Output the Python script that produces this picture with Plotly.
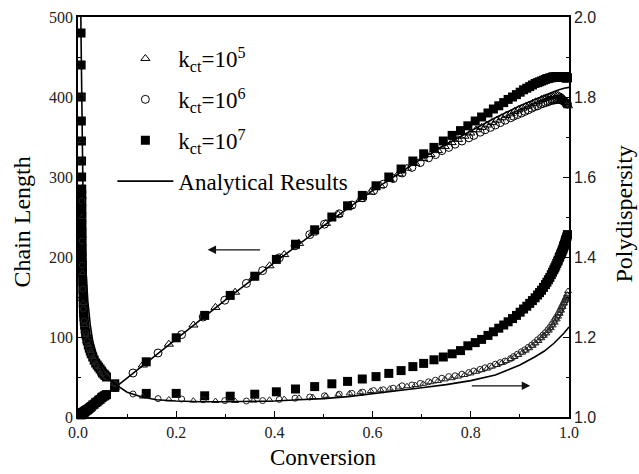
import plotly.graph_objects as go

# ---------------- data ----------------
# k_ct = 1e7 (filled squares)
k7_conv = [0.0062, 0.0064, 0.0066, 0.0068, 0.0070, 0.0072, 0.0074, 0.0076, 0.0077, 0.0078,
           0.0079, 0.0080, 0.0081, 0.0083, 0.0084, 0.0086, 0.0088, 0.0090, 0.0092, 0.0095,
           0.0098, 0.0102, 0.0106, 0.0110, 0.0115, 0.0120, 0.0127, 0.0135, 0.0145, 0.0155,
           0.0165, 0.018, 0.019, 0.021, 0.023, 0.025, 0.027, 0.030, 0.033, 0.036,
           0.039, 0.042, 0.045, 0.048, 0.050, 0.053, 0.055, 0.058, 0.075,
           0.139, 0.200, 0.258, 0.310, 0.360, 0.404, 0.443, 0.482, 0.517, 0.549,
           0.579, 0.607, 0.633, 0.658, 0.682, 0.704, 0.725, 0.744, 0.762, 0.779,
           0.794, 0.809, 0.822, 0.835, 0.846, 0.857, 0.867, 0.876, 0.885, 0.893,
           0.9005, 0.9075, 0.914, 0.920, 0.9255, 0.931, 0.936, 0.940, 0.944, 0.948,
           0.952, 0.955, 0.958, 0.961, 0.964, 0.9665, 0.969, 0.971, 0.973, 0.975,
           0.977, 0.978, 0.980, 0.981, 0.983, 0.984, 0.985, 0.986, 0.987, 0.988,
           0.989, 0.9895, 0.990, 0.991, 0.992, 0.9925, 0.993, 0.9935, 0.994, 0.995,
           0.996, 0.997]
k7_cl = [3, 3, 3, 3, 3, 4, 4, 4, 4, 4,
         4, 4, 4, 4, 4, 4, 4, 5, 5, 5,
         5, 5, 5, 5, 6, 6, 6, 7, 7, 8,
         8, 9, 9, 10, 11, 12, 13, 15, 16, 18,
         19, 21, 22, 24, 25, 26, 27, 28, 37,
         69, 99, 127, 152, 176, 197, 216, 234, 250, 264,
         277, 289, 300, 310, 320, 329, 337, 345, 352, 358,
         364, 370, 375, 380, 385, 389, 393, 397, 400, 403,
         406, 409, 411, 413, 415, 417, 418, 419, 420, 421,
         422, 423, 423, 424, 424, 425, 425, 425, 425, 425,
         425, 425, 425, 425, 425, 425, 425, 425, 425, 425,
         425, 425, 425, 425, 425, 425, 425, 424, 424, 424,
         424, 424]
k7_pdi = [1.96, 1.88, 1.80, 1.74, 1.69, 1.64, 1.60, 1.57, 1.555, 1.54,
          1.52, 1.50, 1.48, 1.46, 1.44, 1.42, 1.40, 1.38, 1.36, 1.34,
          1.32, 1.30, 1.285, 1.27, 1.26, 1.25, 1.24, 1.23, 1.22, 1.21,
          1.205, 1.195, 1.19, 1.18, 1.172, 1.165, 1.158, 1.15, 1.142, 1.135,
          1.13, 1.125, 1.12, 1.115, 1.11, 1.107, 1.104, 1.10, 1.083,
          1.059, 1.059, 1.053, 1.052, 1.057, 1.063, 1.070, 1.076, 1.083, 1.089,
          1.095, 1.101, 1.109, 1.116, 1.126, 1.134, 1.143, 1.150, 1.158, 1.166,
          1.178, 1.186, 1.194, 1.204, 1.213, 1.222, 1.230, 1.238, 1.246, 1.254,
          1.262, 1.270, 1.277, 1.284, 1.291, 1.298, 1.305, 1.311, 1.317, 1.324,
          1.331, 1.337, 1.343, 1.349, 1.356, 1.362, 1.368, 1.373, 1.378, 1.384,
          1.389, 1.392, 1.398, 1.401, 1.406, 1.409, 1.412, 1.415, 1.418, 1.421,
          1.425, 1.427, 1.429, 1.432, 1.436, 1.438, 1.440, 1.442, 1.444, 1.448,
          1.452, 1.456]

# k_ct = 1e6 (open circles)
k6_conv = [0.0066, 0.0072, 0.0078, 0.0084, 0.0090, 0.0098, 0.0110, 0.0127, 0.0155, 0.019,
           0.023, 0.027, 0.033, 0.039, 0.045, 0.050, 0.055, 0.058, 0.075,
           0.112, 0.163, 0.211, 0.255, 0.299, 0.343, 0.376, 0.410, 0.442, 0.472,
           0.502, 0.532, 0.558, 0.580, 0.602, 0.622, 0.642, 0.660, 0.680, 0.697,
           0.714, 0.728, 0.741, 0.755, 0.768, 0.782, 0.796, 0.806, 0.819, 0.829,
           0.840, 0.850, 0.860, 0.870, 0.881, 0.887,
           0.895, 0.903, 0.910, 0.917, 0.924, 0.930, 0.936, 0.942, 0.947, 0.952,
           0.957, 0.961, 0.965, 0.969, 0.972, 0.975, 0.978, 0.981, 0.983, 0.985,
           0.987, 0.989, 0.991, 0.993, 0.995, 0.997]
k6_cl = [3, 4, 4, 4, 4, 5, 5, 6, 8, 9,
         11, 13, 16, 19, 22, 25, 27, 28, 37,
         55, 80, 103, 125, 146, 167, 183, 199, 214, 228,
         241, 254, 265, 274, 283, 291, 298, 305, 312, 318,
         324, 328, 333, 337, 341, 345, 349, 352, 356, 359,
         362, 365, 368, 371, 374, 376,
         378, 380, 382, 384, 386, 388, 389, 391, 392, 393,
         394, 395, 396, 396, 397, 397, 397, 397, 397, 396,
         396, 395, 394, 393, 392, 391]
k6_pdi = [1.80, 1.64, 1.54, 1.44, 1.38, 1.32, 1.27, 1.24, 1.21, 1.19,
          1.172, 1.158, 1.142, 1.13, 1.12, 1.11, 1.104, 1.10, 1.083,
          1.0575, 1.046, 1.045, 1.043, 1.041, 1.040, 1.041, 1.044, 1.047, 1.050,
          1.053, 1.057, 1.059, 1.062, 1.066, 1.068, 1.072, 1.078, 1.080, 1.084,
          1.088, 1.092, 1.097, 1.101, 1.103, 1.107, 1.111, 1.115, 1.119, 1.123,
          1.127, 1.132, 1.136, 1.140, 1.146, 1.151,
          1.157, 1.163, 1.168, 1.174, 1.180, 1.186, 1.193, 1.199, 1.205, 1.211,
          1.218, 1.224, 1.231, 1.238, 1.244, 1.250, 1.256, 1.263, 1.268, 1.273,
          1.278, 1.283, 1.288, 1.293, 1.298, 1.303]

# k_ct = 1e5 (open triangles)
k5_conv = [0.0070, 0.0080, 0.0092, 0.0106, 0.0135, 0.0165, 0.021, 0.025, 0.030, 0.036,
           0.042, 0.048, 0.053,
           0.075, 0.132, 0.185, 0.235, 0.280, 0.320, 0.357, 0.390, 0.420, 0.450,
           0.478, 0.505, 0.530, 0.553, 0.575, 0.596, 0.616, 0.635, 0.653, 0.670,
           0.687, 0.703, 0.718, 0.733, 0.747, 0.761, 0.774, 0.787, 0.799, 0.811,
           0.822, 0.833, 0.843, 0.853, 0.863, 0.872, 0.881, 0.889, 0.897, 0.905,
           0.912, 0.919, 0.926, 0.932, 0.938, 0.944, 0.949, 0.954, 0.959, 0.963,
           0.967, 0.971, 0.975, 0.978, 0.981, 0.984, 0.987, 0.990, 0.992, 0.994,
           0.996, 0.998]
k5_cl = [3, 4, 5, 5, 7, 8, 10, 12, 15, 18,
         21, 24, 26,
         37, 65, 91, 115, 137, 156, 174, 189, 203, 217,
         230, 242, 253, 263, 272, 281, 289, 297, 304, 311,
         317, 323, 328, 333, 338, 343, 347, 351, 355, 359,
         362, 365, 368, 371, 374, 377, 379, 382, 384, 386,
         388, 390, 392, 394, 395, 397, 398, 399, 400, 401,
         401, 402, 402, 402, 401, 400, 399, 397, 395, 393,
         391, 389]
k5_pdi = [1.69, 1.50, 1.36, 1.285, 1.23, 1.205, 1.18, 1.165, 1.15, 1.135,
          1.125, 1.115, 1.107,
          1.083, 1.051, 1.044, 1.041, 1.040, 1.040, 1.041, 1.043, 1.045, 1.048,
          1.050, 1.053, 1.056, 1.059, 1.062, 1.065, 1.068, 1.071, 1.074, 1.077,
          1.080, 1.083, 1.087, 1.090, 1.094, 1.097, 1.101, 1.105, 1.109, 1.113,
          1.117, 1.121, 1.126, 1.130, 1.135, 1.140, 1.145, 1.150, 1.155, 1.161,
          1.166, 1.172, 1.178, 1.184, 1.190, 1.197, 1.203, 1.209, 1.216, 1.222,
          1.229, 1.236, 1.244, 1.251, 1.258, 1.266, 1.275, 1.284, 1.291, 1.298,
          1.306, 1.315]

# Analytical results (solid lines)
an_cl_conv = [0, 0.1, 0.2, 0.3, 0.4, 0.5, 0.6, 0.7, 0.75, 0.8, 0.85, 0.9, 0.93, 0.95,
              0.97, 0.98, 0.99, 1.0]
an_cl = [0, 49, 98, 146, 193, 239, 283, 323, 341, 358, 374, 389, 397, 402,
         407, 409, 411, 412]
an_pdi_conv = [0.001, 0.002, 0.003, 0.004, 0.005, 0.006, 0.008, 0.010, 0.012, 0.015,
               0.02, 0.025, 0.03, 0.04, 0.05, 0.06, 0.075, 0.1, 0.13, 0.16,
               0.2, 0.25, 0.3, 0.35, 0.4, 0.45, 0.5, 0.55, 0.6, 0.65,
               0.7, 0.75, 0.8, 0.85, 0.9, 0.93, 0.95, 0.97, 0.98, 0.99, 1.0]
an_pdi = [6.8, 3.9, 2.93, 2.45, 2.16, 1.97, 1.73, 1.58, 1.48, 1.39,
          1.29, 1.23, 1.19, 1.145, 1.115, 1.097, 1.083, 1.062, 1.05, 1.043,
          1.040, 1.038, 1.038, 1.039, 1.040, 1.043, 1.046, 1.051, 1.058, 1.065,
          1.073, 1.081, 1.091, 1.105, 1.13, 1.15, 1.165, 1.185, 1.197, 1.21, 1.225]

legend_names = ["k<sub>ct</sub>=10<sup>5</sup>", "k<sub>ct</sub>=10<sup>6</sup>",
                "k<sub>ct</sub>=10<sup>7</sup>", "Analytical Results"]
x_title = "Conversion"
y_title = "Chain Length"
y2_title = "Polydispersity"

SERIF = "Liberation Serif"
SANS = "Liberation Sans"

fig = go.Figure()

# Chain length (left axis)
fig.add_trace(go.Scatter(x=k7_conv, y=k7_cl, mode="markers", name=legend_names[2],
                         legendgroup="g3", legendrank=3, cliponaxis=False,
                         marker=dict(symbol="square", size=9, color="black",
                                     line=dict(width=0))))
fig.add_trace(go.Scatter(x=k6_conv, y=k6_cl, mode="markers", name=legend_names[1],
                         legendgroup="g2", legendrank=2, cliponaxis=False,
                         marker=dict(symbol="circle-open", size=8, color="black",
                                     line=dict(width=1))))
fig.add_trace(go.Scatter(x=k5_conv, y=k5_cl, mode="markers", name=legend_names[0],
                         legendgroup="g1", legendrank=1, cliponaxis=False,
                         marker=dict(symbol="triangle-up-open", size=8, color="black",
                                     line=dict(width=1))))
fig.add_trace(go.Scatter(x=an_cl_conv, y=an_cl, mode="lines", name=legend_names[3],
                         legendgroup="g4", legendrank=4,
                         line=dict(color="black", width=1.6)))

# Polydispersity (right axis)
fig.add_trace(go.Scatter(x=k7_conv, y=k7_pdi, mode="markers", yaxis="y2", showlegend=False,
                         cliponaxis=False,
                         marker=dict(symbol="square", size=9, color="black",
                                     line=dict(width=0))))
fig.add_trace(go.Scatter(x=k6_conv, y=k6_pdi, mode="markers", yaxis="y2", showlegend=False,
                         cliponaxis=False,
                         marker=dict(symbol="circle-open", size=6, color="#222",
                                     line=dict(width=1))))
fig.add_trace(go.Scatter(x=k5_conv, y=k5_pdi, mode="markers", yaxis="y2", showlegend=False,
                         cliponaxis=False,
                         marker=dict(symbol="triangle-up-open", size=6, color="#222",
                                     line=dict(width=1))))
fig.add_trace(go.Scatter(x=an_pdi_conv, y=an_pdi, mode="lines", yaxis="y2", showlegend=False,
                         line=dict(color="black", width=1.6)))

axis_common = dict(showline=True, linecolor="black", linewidth=1.5, ticks="inside",
                   ticklen=6, tickwidth=1.2, tickcolor="black", showgrid=False,
                   zeroline=False)

title_font = dict(family=SERIF, size=24, color="black")

fig.update_layout(
    width=639, height=474,
    margin=dict(l=78, r=70, t=17, b=57, autoexpand=False),
    paper_bgcolor="white", plot_bgcolor="white",
    font=dict(family=SERIF, size=16, color="black"),
    showlegend=True,
    legend=dict(x=0.07, y=0.95, xanchor="left", yanchor="top",
                bgcolor="rgba(0,0,0,0)", borderwidth=0, itemwidth=56,
                tracegroupgap=8, font=dict(family=SERIF, size=23, color="black")),
    xaxis=dict(range=[0, 1], dtick=0.2, tick0=0, tickformat=".1f", mirror=True,
               minor=dict(ticks="inside", dtick=0.1, ticklen=3, tickwidth=1.2,
                          tickcolor="black"),
               tickfont=dict(family=SERIF + ", serif", size=16, color="#222"),
               **axis_common),
    yaxis=dict(range=[0, 500], dtick=100, tick0=0,
               minor=dict(ticks="inside", dtick=50, ticklen=3, tickwidth=1.2,
                          tickcolor="black"),
               tickfont=dict(family=SERIF + ", serif", size=16, color="#222"),
               **axis_common),
    yaxis2=dict(range=[1, 2], dtick=0.2, tick0=1, tickformat=".1f", overlaying="y",
                side="right",
                minor=dict(ticks="inside", dtick=0.1, ticklen=3, tickwidth=1.2,
                           tickcolor="black"),
                tickfont=dict(family=SANS + ", sans-serif", size=16, color="#222"),
                **axis_common),
    annotations=[
        dict(x=0.264, y=209, xref="x", yref="y", ax=0.374, ay=209, axref="x", ayref="y",
             text="", showarrow=True, arrowhead=2, arrowsize=1.3, arrowwidth=1.3,
             arrowcolor="#111"),
        dict(x=0.921, y=1.078, xref="x", yref="y2", ax=0.799, ay=1.078, axref="x",
             ayref="y2", text="", showarrow=True, arrowhead=2, arrowsize=1.3,
             arrowwidth=1.3, arrowcolor="#111"),
        dict(text=x_title, x=0.5, y=-0.1, xref="paper", yref="paper",
             xanchor="center", yanchor="middle", showarrow=False, borderpad=0,
             font=dict(family=SERIF, size=23, color="black")),
        dict(text=y_title, x=-0.115, y=0.4875, xref="paper", yref="paper",
             xanchor="center", yanchor="middle", textangle=-90, showarrow=False,
             font=title_font),
        dict(text=y2_title, x=1.113, y=0.5075, xref="paper", yref="paper",
             xanchor="center", yanchor="middle", textangle=-90, showarrow=False,
             font=title_font),
    ],
)

fig.write_html("out.html")
